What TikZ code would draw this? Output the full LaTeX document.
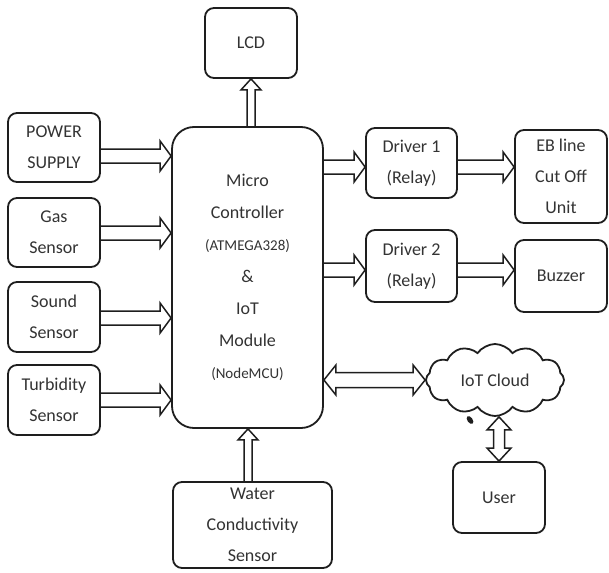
\documentclass[tikz,border=0pt]{standalone}
\usepackage{fontspec}
\setmainfont{Carlito}
\usetikzlibrary{calc,shapes.symbols}
\definecolor{txt}{HTML}{333333}
\definecolor{ln}{HTML}{1E1E1E}
\tikzset{
 box/.style={draw=ln, line width=1.8pt, rounded corners=9pt, fill=white, text=txt,
   align=center, inner sep=0pt, font=\fontsize{18}{31}\selectfont},
 onearrow/.style n args={3}{draw=ln, line width=1.5pt, line join=miter, to path={
   let \p1=(\tikztostart), \p2=(\tikztotarget),
       \n1={atan2(\y2-\y1,\x2-\x1)}, \n2={veclen(\x2-\x1,\y2-\y1)} in
   ([shift={(\p1)},rotate=\n1]0pt,#1) -- ([shift={(\p1)},rotate=\n1]\n2-#3,#1)
   -- ([shift={(\p1)},rotate=\n1]\n2-#3,#2) -- ([shift={(\p1)},rotate=\n1]\n2,0pt)
   -- ([shift={(\p1)},rotate=\n1]\n2-#3,-#2) -- ([shift={(\p1)},rotate=\n1]\n2-#3,-#1)
   -- ([shift={(\p1)},rotate=\n1]0pt,-#1)}},
 twoarrow/.style n args={3}{draw=ln, line width=1.5pt, line join=miter, to path={
   let \p1=(\tikztostart), \p2=(\tikztotarget),
       \n1={atan2(\y2-\y1,\x2-\x1)}, \n2={veclen(\x2-\x1,\y2-\y1)} in
   ([shift={(\p1)},rotate=\n1]#3,#1) -- ([shift={(\p1)},rotate=\n1]\n2-#3,#1)
   -- ([shift={(\p1)},rotate=\n1]\n2-#3,#2) -- ([shift={(\p1)},rotate=\n1]\n2,0pt)
   -- ([shift={(\p1)},rotate=\n1]\n2-#3,-#2) -- ([shift={(\p1)},rotate=\n1]\n2-#3,-#1)
   -- ([shift={(\p1)},rotate=\n1]#3,-#1) -- ([shift={(\p1)},rotate=\n1]#3,-#2)
   -- ([shift={(\p1)},rotate=\n1]0pt,0pt) -- ([shift={(\p1)},rotate=\n1]#3,#2) -- cycle}},
 fatarrow/.style={onearrow={7pt}{15pt}{11pt}},
 slimarrow/.style={onearrow={4pt}{10pt}{11pt}},
 bothways/.style={twoarrow={7.5pt}{15pt}{12pt}},
 bothwaysv/.style={twoarrow={5.5pt}{12pt}{13pt}},
}
\begin{document}
\begin{tikzpicture}[x=1pt,y=-1pt]
\useasboundingbox (0,0) rectangle (609,572);
% left column
\node[box, minimum width=92pt, minimum height=69pt] (pwr) at (54,147.5) {POWER\\SUPPLY};
\node[box, minimum width=92pt, minimum height=69pt] (gas) at (54,232.5) {Gas\\Sensor};
\node[box, minimum width=92pt, minimum height=70pt] (snd) at (54,317) {Sound\\Sensor};
\node[box, minimum width=92pt, minimum height=70pt] (turb) at (54,400) {Turbidity\\Sensor};
% controller
\node[box, rounded corners=22pt, minimum width=151pt, minimum height=301pt,
      font=\fontsize{18}{32}\selectfont] (mcu) at (247.5,277.5)
  {Micro\\Controller\\{\fontsize{15}{32}\selectfont (ATMEGA328)}\\\&\\IoT\\Module\\{\fontsize{15}{32}\selectfont (NodeMCU)}};
\node[box, minimum width=92pt, minimum height=70pt] (lcd) at (251,43) {LCD};
% right side
\node[box, minimum width=91pt, minimum height=70pt] (drv1) at (411.5,163) {Driver 1\\(Relay)};
\node[box, minimum width=91pt, minimum height=72pt] (drv2) at (411.5,266) {Driver 2\\(Relay)};
\node[box, minimum width=92pt, minimum height=93pt] (eb) at (561,176.5) {EB line\\Cut Off\\Unit};
\node[box, minimum width=92pt, minimum height=72pt] (buz) at (561,276) {Buzzer};
\node[cloud, cloud puffs=12, cloud puff arc=110, aspect=2.1, draw=ln, line width=1.8pt,
      fill=white, text=txt, font=\fontsize{18}{22}\selectfont, inner sep=0pt,
      minimum width=138pt, minimum height=72pt] (cloud) at (495,380) {IoT Cloud};
\node[box, minimum width=92pt, minimum height=71pt] (user) at (499,497.5) {User};
\node[box, minimum width=159pt, minimum height=86pt] (water) at (252.5,525) {Water\\Conductivity\\Sensor};
\fill[ln] (470,420) ellipse [x radius=2.6pt, y radius=4.5pt, rotate=35];
% connectors
\draw[fatarrow] (pwr.east |- 0,156) to (mcu.west |- 0,156);
\draw[fatarrow] (gas.east |- 0,233) to (mcu.west |- 0,233);
\draw[fatarrow] (snd.east |- 0,318) to (mcu.west |- 0,318);
\draw[fatarrow] (turb.east |- 0,400) to (mcu.west |- 0,400);
\draw[slimarrow] (lcd.south |- mcu.north) to (lcd.south);
\draw[fatarrow] (mcu.east |- 0,167) to (drv1.west |- 0,167);
\draw[fatarrow] (drv1.east |- 0,167) to (eb.west |- 0,167);
\draw[fatarrow] (mcu.east |- 0,270) to (drv2.west |- 0,270);
\draw[fatarrow] (drv2.east |- 0,270) to (buz.west |- 0,270);
\draw[bothways] (mcu.east |- cloud.west) to (cloud.west);
\draw[bothwaysv] (user.north |- cloud.south) to (user.north);
\draw[slimarrow] (water.north -| 248,0) to (mcu.south -| 248,0);
\end{tikzpicture}
\end{document}
